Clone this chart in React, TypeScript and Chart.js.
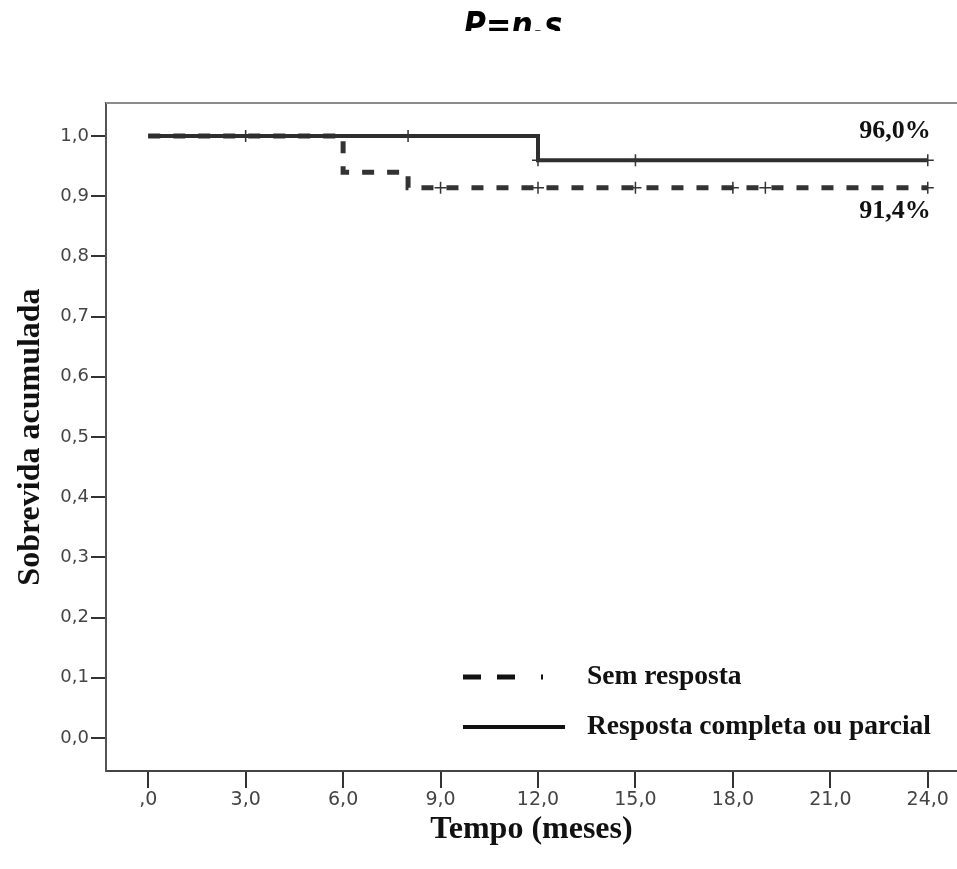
import React, { useEffect, useRef } from 'react';
import { Chart, registerables } from 'chart.js';

Chart.register(...registerables);

// ---- Data ----
const xTickValues = [0, 3, 6, 9, 12, 15, 18, 21, 24];
const yTickValues = [0, 0.1, 0.2, 0.3, 0.4, 0.5, 0.6, 0.7, 0.8, 0.9, 1.0];

const seriesNames = ['Sem resposta', 'Resposta completa ou parcial'];

// Sem resposta (dashed): step times and survival
const semTimes = [0, 6, 8, 24];
const semSurv = [1.0, 0.94, 0.914, 0.914];
const semCensorTimes = [9, 12, 15, 18, 19, 24];

// Resposta completa ou parcial (solid)
const respTimes = [0, 12, 24];
const respSurv = [1.0, 0.96, 0.96];
const respCensorTimes = [3, 8, 12, 15, 24];

const finalLabels = ['91,4%', '96,0%'];
const titleText = 'P=n.s';
const xTitle = 'Tempo (meses)';
const yTitle = 'Sobrevida acumulada';

// step lookup (value of the curve at time t)
const survAt = (times: number[], surv: number[], t: number) => {
  let v = surv[0];
  for (let i = 0; i < times.length; i++) if (times[i] <= t) v = surv[i];
  return v;
};

const fmt = (v: number) => (v === 0 ? ',0' : v.toFixed(1).replace('.', ','));
const fmtY = (v: number) => v.toFixed(1).replace('.', ',');

const decorPlugin = {
  id: 'decor',
  afterDraw(chart: any) {
    const { ctx, chartArea: a, scales } = chart;
    const xs = scales.x;
    const ys = scales.y;
    ctx.save();
    // top frame line
    ctx.strokeStyle = '#8c8c8c';
    ctx.lineWidth = 2;
    ctx.beginPath();
    ctx.moveTo(a.left, a.top);
    ctx.lineTo(chart.width, a.top);
    ctx.stroke();

    // final survival labels
    const lastX = xs.getPixelForValue(24) + 3;
    ctx.fillStyle = '#111';
    ctx.font = 'bold 26px "Liberation Serif"';
    ctx.textAlign = 'right';
    ctx.textBaseline = 'alphabetic';
    ctx.fillText(finalLabels[1], lastX, ys.getPixelForValue(respSurv[respSurv.length - 1]) - 22);
    ctx.fillText(finalLabels[0], lastX, ys.getPixelForValue(semSurv[semSurv.length - 1]) + 30);

    // legend
    const lx = a.left + 357;
    const ly1 = 677;
    const ly2 = 727;
    ctx.strokeStyle = '#111';
    ctx.lineWidth = 5;
    ctx.lineCap = 'butt';
    ctx.beginPath();
    ctx.moveTo(lx, ly1); ctx.lineTo(lx + 18, ly1);
    ctx.moveTo(lx + 34, ly1); ctx.lineTo(lx + 52, ly1);
    ctx.moveTo(lx + 78, ly1); ctx.lineTo(lx + 80, ly1);
    ctx.stroke();
    ctx.lineWidth = 4;
    ctx.beginPath();
    ctx.moveTo(lx, ly2); ctx.lineTo(lx + 102, ly2);
    ctx.stroke();
    ctx.font = 'bold 27.5px "Liberation Serif"';
    ctx.textAlign = 'left';
    ctx.textBaseline = 'middle';
    ctx.fillText(seriesNames[0], lx + 124, ly1);
    ctx.fillText(seriesNames[1], lx + 124, ly2);

    // clipped title at top
    ctx.beginPath();
    ctx.rect(0, 0, chart.width, 31);
    ctx.clip();
    ctx.font = 'italic bold 36px "DejaVu Sans"';
    ctx.textAlign = 'center';
    ctx.textBaseline = 'alphabetic';
    ctx.fillStyle = '#000';
    ctx.translate(513, 37);
    ctx.scale(0.84, 1);
    ctx.fillText(titleText, 0, 0);
    ctx.restore();
  },
};

export default function App() {
  const ref = useRef<HTMLCanvasElement | null>(null);
  useEffect(() => {
    if (!ref.current) return;
    const semLine = semTimes.map((t, i) => ({ x: t, y: semSurv[i] }));
    const respLine = respTimes.map((t, i) => ({ x: t, y: respSurv[i] }));
    const semCens = semCensorTimes.map((t) => ({ x: t, y: survAt(semTimes, semSurv, t) }));
    const respCens = respCensorTimes.map((t) => ({ x: t, y: survAt(respTimes, respSurv, t) }));
    const chart = new Chart(ref.current, {
      type: 'line',
      data: {
        datasets: [
          {
            label: seriesNames[1] + ' censurado',
            data: respCens,
            showLine: false,
            pointStyle: 'cross',
            pointRadius: 6,
            borderColor: '#333',
            borderWidth: 1.5,
            order: 0,
          },
          {
            label: seriesNames[0] + ' censurado',
            data: semCens,
            showLine: false,
            pointStyle: 'cross',
            pointRadius: 6,
            borderColor: '#333',
            borderWidth: 1.5,
            order: 1,
          },
          {
            label: seriesNames[1],
            data: respLine,
            stepped: 'before',
            borderColor: '#2e2e2e',
            borderWidth: 4,
            pointRadius: 0,
            fill: false,
            order: 2,
          },
          {
            label: seriesNames[0],
            data: semLine,
            stepped: 'before',
            borderColor: '#333',
            borderWidth: 5,
            borderDash: [12, 13],
            pointRadius: 0,
            fill: false,
            order: 3,
          },
        ],
      },
      options: {
        animation: false,
        responsive: false,
        devicePixelRatio: 1,
        layout: { autoPadding: false, padding: { top: 103, right: 0, bottom: 0, left: 0 } },
        plugins: { legend: { display: false }, tooltip: { enabled: false }, title: { display: false } },
        scales: {
          x: {
            type: 'linear',
            min: -1.3,
            max: 24.9,
            afterBuildTicks: (s: any) => {
              s.ticks = xTickValues.map((v) => ({ value: v }));
            },
            afterFit: (s: any) => {
              s.height = 98;
              s.paddingLeft = 0;
              s.paddingRight = 0;
            },
            ticks: {
              callback: (v: any) => fmt(Number(v)),
              color: '#444',
              font: { family: '"DejaVu Sans"', size: 19 },
              padding: 1,
              maxRotation: 0,
              autoSkip: false,
            },
            grid: { drawOnChartArea: false, drawTicks: true, tickLength: 17, color: '#333', lineWidth: 2 },
            border: { display: true, color: '#444', width: 2 },
            title: {
              display: true,
              text: xTitle,
              color: '#111',
              font: { family: '"Liberation Serif"', size: 32, weight: 'bold', lineHeight: 1.2 },
              padding: { top: 0, bottom: 20 },
            },
          },
          y: {
            type: 'linear',
            min: -0.055,
            max: 1.055,
            afterBuildTicks: (s: any) => {
              s.ticks = yTickValues.map((v) => ({ value: v }));
            },
            afterFit: (s: any) => {
              s.width = 106;
              s.paddingTop = 0;
              s.paddingBottom = 0;
            },
            ticks: {
              callback: (v: any) => fmtY(Number(v)),
              color: '#444',
              font: { family: '"DejaVu Sans"', size: 18 },
              padding: 2,
              autoSkip: false,
            },
            grid: { drawOnChartArea: false, drawTicks: true, tickLength: 15, color: '#333', lineWidth: 2 },
            border: { display: true, color: '#555', width: 2 },
            title: {
              display: true,
              text: yTitle,
              color: '#111',
              font: { family: '"Liberation Serif"', size: 32, weight: 'bold', lineHeight: 1.2 },
              padding: { top: 12, bottom: 0 },
            },
          },
        },
      },
      plugins: [decorPlugin],
    });
    return () => chart.destroy();
  }, []);
  return (
    <div style={{ position: 'fixed', left: 0, top: 0, width: 957, height: 869, background: '#fff' }}>
      <canvas ref={ref} width={957} height={869} style={{ width: 957, height: 869, display: 'block' }} />
    </div>
  );
}
